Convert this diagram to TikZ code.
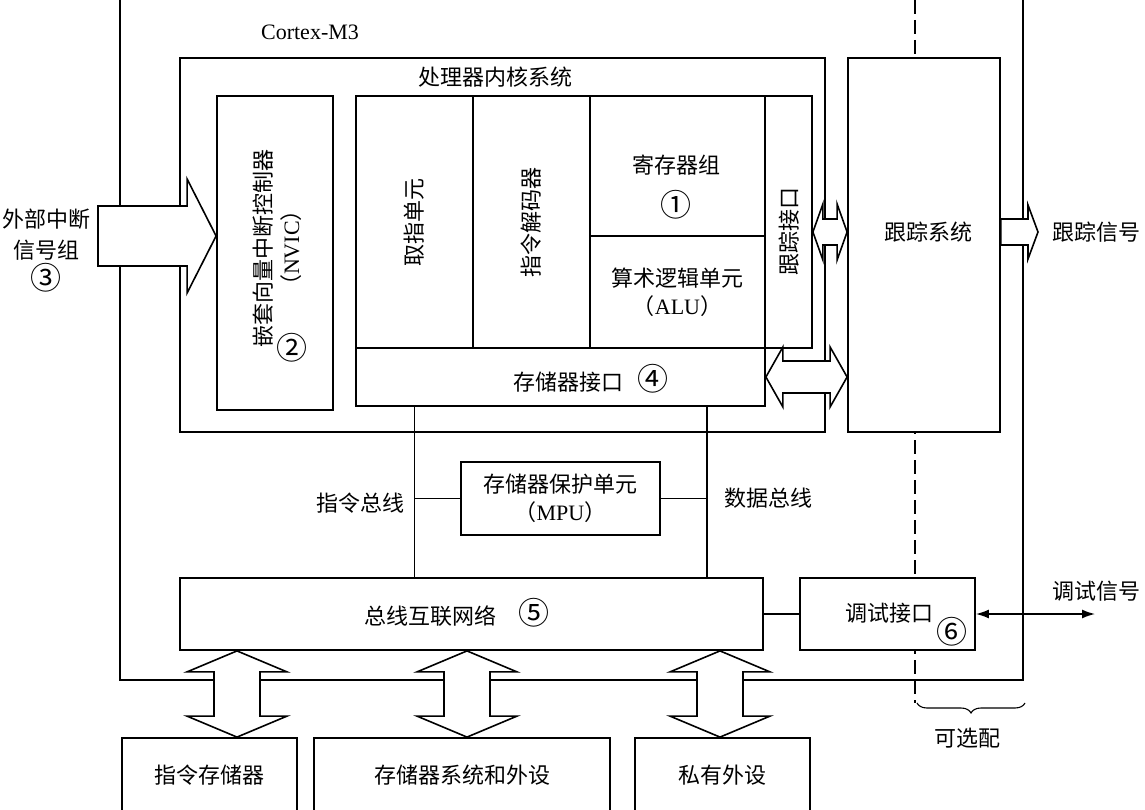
\documentclass[tikz,border=0pt]{standalone}
\usepackage{fontspec}
\setmainfont{Liberation Serif}
\newfontfamily\cjk{Noto Sans CJK SC}
\usetikzlibrary{calc,decorations.pathreplacing,arrows.meta}

\tikzset{
  box/.style={draw, fill=white, line width=1.8pt, inner sep=0pt, align=center},
  txt/.style={inner sep=0pt, align=center},
  wire/.style={line width=1.5pt},
  blockarrow/.style={draw, fill=white, line width=1.6pt},
}
\newcommand{\cnum}[1]{{\fontsize{31}{28}\selectfont #1}}

% block arrows: #1 start, #2 end, #3 half shaft, #4 half head, #5 head length
\newcommand{\hdblarrow}[5]{%
  \draw[blockarrow] (#1) -- ($(#1)+(#5,-#4)$) -- ($(#1)+(#5,-#3)$) -- ($(#2)+(-#5,-#3)$)
    -- ($(#2)+(-#5,-#4)$) -- (#2) -- ($(#2)+(-#5,#4)$) -- ($(#2)+(-#5,#3)$)
    -- ($(#1)+(#5,#3)$) -- ($(#1)+(#5,#4)$) -- cycle;}
\newcommand{\hsglarrow}[5]{%
  \draw[blockarrow] ($(#1)+(0,-#3)$) -- ($(#2)+(-#5,-#3)$) -- ($(#2)+(-#5,-#4)$) -- (#2)
    -- ($(#2)+(-#5,#4)$) -- ($(#2)+(-#5,#3)$) -- ($(#1)+(0,#3)$) -- cycle;}
\newcommand{\vdblarrow}[5]{%
  \draw[blockarrow] (#1) -- ($(#1)+(#4,#5)$) -- ($(#1)+(#3,#5)$) -- ($(#2)+(#3,-#5)$)
    -- ($(#2)+(#4,-#5)$) -- (#2) -- ($(#2)+(-#4,-#5)$) -- ($(#2)+(-#3,-#5)$)
    -- ($(#1)+(-#3,#5)$) -- ($(#1)+(-#4,#5)$) -- cycle;}

\begin{document}
\begin{tikzpicture}[x=1pt, y=-1pt, font=\cjk\fontsize{22}{28}\selectfont]
\clip (0,0) rectangle (1145,810);

% Cortex-M3 frame and optional part
\draw[line width=1.8pt] (120,-10) -- (120,680) -- (1023,680) -- (1023,-10);
\draw[line width=1.1pt, dash pattern=on 14pt off 6pt] (915,0) -- (915,703);
\node[txt, font=\rmfamily\fontsize{22}{28}\selectfont] at (310,32) {Cortex-M3};
\draw[line width=1.1pt, decorate, decoration={brace, mirror, amplitude=10pt}] (917,703) -- (1025,703);
\node[txt] at (967,738) {可选配};

% processor core
\node[box, minimum width=645, minimum height=374] (core) at (502.5,245) {};
\node[txt] at (495,77) {处理器内核系统};
\node[box, minimum width=116, minimum height=314] (nvic) at (275,253) {};
\node[txt, rotate=90] at (277,248) {嵌套向量中断控制器\\（{\rmfamily NVIC}）};
\node[txt] at (292,348) {\cnum{②}};

\node[box, minimum width=117, minimum height=252] (fetch) at (414.5,222) {};
\node[txt, rotate=90] at (fetch) {取指单元};
\node[box, minimum width=117, minimum height=252] (dec) at (531.5,222) {};
\node[txt, rotate=90] at (dec) {指令解码器};
\node[box, minimum width=175, minimum height=140] (reg) at (677.5,166) {};
\node[txt] at (676,165) {寄存器组};
\node[txt] at (676,205) {\cnum{①}};
\node[box, minimum width=175, minimum height=112] (alu) at (677.5,292) {算术逻辑单元\\（{\rmfamily ALU}）};
\node[box, minimum width=47, minimum height=252] (tif) at (788.5,222) {};
\node[txt, rotate=90] at (789,232) {跟踪接口};
\node[box, minimum width=409, minimum height=58] (memif) at (560.5,377) {};
\node[txt] at (591,379) {存储器接口\hspace{14pt}\cnum{④}};

\node[box, minimum width=152, minimum height=374] (trsys) at (924,245) {};
\node[txt] at (928,232) {跟踪系统};

% buses
\node[box, minimum width=199, minimum height=73] (mpu) at (560.5,498.5) {存储器保护单元\\（{\rmfamily MPU}）};
\node[box, minimum width=583, minimum height=72] (bus) at (471.5,614) {};
\node[txt] at (457,613) {总线互联网络\hspace{22pt}\cnum{⑤}};
\node[box, minimum width=175, minimum height=72] (dbg) at (887.5,614) {};
\node[txt] at (889,613) {调试接口};
\node[txt] at (952,632) {\cnum{⑥}};

\coordinate (dbx) at (707,0);
\draw[wire] (fetch.south |- memif.south) -- (fetch.south |- bus.north);
\draw[wire] (dbx |- memif.south) -- (dbx |- bus.north);
\draw[wire] (mpu.west) -- (mpu.west -| fetch.south);
\draw[wire] (mpu.east) -- (mpu.east -| dbx);
\draw[wire] (bus.east) -- (dbg.west);
\node[txt] at (360,503) {指令总线};
\node[txt] at (768,498) {数据总线};

% outside memories
\node[box, minimum width=175, minimum height=74] (imem) at (209.5,775) {指令存储器};
\node[box, minimum width=296, minimum height=74] (msys) at (462,775) {存储器系统和外设};
\node[box, minimum width=175, minimum height=74] (priv) at (722.5,775) {私有外设};

% signals
\node[txt, font=\cjk\fontsize{22}{31}\selectfont] at (46,251) {外部中断\\信号组\\\cnum{③}};
\node[txt] at (1096,232) {跟踪信号};
\node[txt] at (1096,591) {调试信号};
\coordinate (dbgout) at (1095,614);
\draw[wire, {Latex[length=13pt,width=9pt]}-{Latex[length=13pt,width=9pt]}] (dbg.east) -- (dbgout);

\coordinate (tracey) at (0,232);
\coordinate (irqtail) at (98,236);
\coordinate (irqtip) at (nvic.west |- irqtail);
\hsglarrow{irqtail}{irqtip}{30}{57}{29}
\coordinate (trA) at (tif.east |- tracey);
\coordinate (trB) at (trsys.west |- tracey);
\hdblarrow{trA}{trB}{13}{28}{10}
\coordinate (miB) at (trsys.west |- memif.east);
\hdblarrow{memif.east}{miB}{16}{30}{17}
\coordinate (trC) at (trsys.east |- tracey);
\coordinate (trout) at (1038,232);
\hsglarrow{trC}{trout}{13}{27}{10}
\foreach \ax/\tgt in {237/imem, 467/msys, 720/priv} {
  \coordinate (ax) at (\ax,0);
  \coordinate (vt) at (ax |- bus.south);
  \coordinate (vb) at (ax |- \tgt.north);
  \vdblarrow{vt}{vb}{23}{50}{21}
}
\end{tikzpicture}
\end{document}
